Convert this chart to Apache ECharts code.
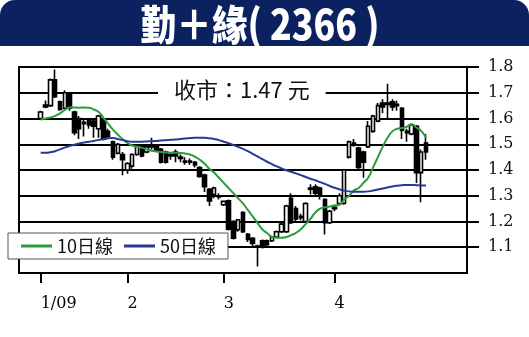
<!DOCTYPE html>
<html>
<head>
<meta charset="utf-8">
<script src="https://cdn.jsdelivr.net/npm/echarts@6/dist/echarts.min.js"></script>
<style>
html,body{margin:0;padding:0;background:#fff;}
#chart{width:529px;height:337px;}
</style>
</head>
<body>
<div id="chart"></div>
<script>
// Daily candles: [open, close, low, high]
const candles = [
  [1.60,1.625,1.598,1.63],[1.645,1.652,1.64,1.67],[1.65,1.75,1.645,1.755],[1.75,1.685,1.68,1.79],
  [1.665,1.635,1.63,1.67],[1.64,1.70,1.635,1.71],[1.695,1.64,1.63,1.70],[1.625,1.545,1.535,1.63],
  [1.60,1.56,1.52,1.61],[1.58,1.585,1.53,1.60],[1.595,1.575,1.56,1.60],[1.59,1.57,1.525,1.595],
  [1.56,1.61,1.525,1.615],[1.595,1.52,1.515,1.60],[1.55,1.53,1.52,1.56],[1.51,1.45,1.44,1.515],
  [1.465,1.50,1.46,1.505],[1.46,1.44,1.38,1.47],[1.40,1.425,1.385,1.43],[1.415,1.46,1.405,1.465],
  [1.46,1.495,1.455,1.50],[1.495,1.455,1.45,1.50],[1.47,1.49,1.465,1.50],[1.495,1.49,1.48,1.525],
  [1.49,1.475,1.47,1.50],[1.48,1.43,1.425,1.485],[1.47,1.43,1.425,1.475],[1.455,1.46,1.44,1.47],
  [1.47,1.455,1.43,1.48],[1.45,1.445,1.43,1.46],[1.435,1.43,1.42,1.45],[1.435,1.43,1.42,1.445],
  [1.43,1.42,1.41,1.435],[1.41,1.375,1.37,1.415],[1.38,1.335,1.315,1.385],[1.325,1.28,1.26,1.33],
  [1.305,1.33,1.29,1.335],[1.30,1.295,1.285,1.31],[1.265,1.278,1.26,1.28],[1.28,1.17,1.165,1.285],
  [1.20,1.135,1.13,1.205],[1.168,1.207,1.16,1.21],[1.235,1.16,1.155,1.24],[1.15,1.13,1.12,1.155],
  [1.135,1.115,1.105,1.14],[1.10,1.105,1.025,1.11],[1.125,1.10,1.095,1.13],[1.125,1.11,1.10,1.13],
  [1.125,1.14,1.12,1.145],[1.14,1.16,1.135,1.165],[1.16,1.19,1.155,1.195],[1.16,1.26,1.155,1.265],
  [1.29,1.195,1.19,1.31],[1.25,1.21,1.20,1.26],[1.22,1.215,1.205,1.23],[1.20,1.27,1.195,1.275],
  [1.33,1.325,1.305,1.345],[1.335,1.31,1.30,1.345],[1.33,1.30,1.285,1.335],[1.285,1.195,1.15,1.29],
  [1.195,1.24,1.19,1.245],[1.25,1.255,1.24,1.265],[1.27,1.30,1.265,1.31],[1.27,1.40,1.265,1.40],
  [1.45,1.51,1.445,1.515],[1.505,1.50,1.49,1.52],[1.485,1.41,1.40,1.49],[1.47,1.43,1.37,1.475],
  [1.49,1.57,1.485,1.59],[1.55,1.61,1.545,1.615],[1.59,1.65,1.585,1.66],[1.66,1.645,1.62,1.675],
  [1.66,1.655,1.60,1.735],[1.665,1.645,1.63,1.675],[1.655,1.65,1.63,1.67],[1.64,1.555,1.52,1.645],
  [1.55,1.545,1.51,1.56],[1.54,1.575,1.535,1.58],[1.57,1.39,1.35,1.575],[1.39,1.47,1.275,1.48],
  [1.505,1.47,1.44,1.54]
];

// 10-day moving average
const ma10 = [
  1.595,1.60,1.604,1.61,1.62,1.633,1.643,1.643,1.642,1.643,1.642,1.635,1.626,1.603,1.58,1.557,
  1.538,1.52,1.505,1.495,1.49,1.486,1.48,1.475,1.472,1.47,1.468,1.467,1.467,1.466,1.464,1.46,
  1.452,1.44,1.425,1.405,1.39,1.37,1.35,1.33,1.31,1.29,1.27,1.245,1.22,1.195,1.17,1.155,
  1.14,1.137,1.137,1.14,1.147,1.156,1.17,1.19,1.21,1.235,1.25,1.255,1.258,1.262,1.265,1.285,
  1.30,1.32,1.33,1.35,1.37,1.41,1.45,1.49,1.525,1.55,1.56,1.563,1.568,1.578,1.565,1.552,1.525
];

// 50-day moving average
const ma50 = [
  1.467,1.467,1.469,1.473,1.48,1.487,1.493,1.498,1.503,1.507,1.51,1.513,1.517,1.52,1.523,1.524,
  1.52,1.516,1.512,1.51,1.51,1.51,1.511,1.512,1.513,1.515,1.516,1.517,1.518,1.52,1.522,1.524,
  1.525,1.525,1.525,1.523,1.52,1.516,1.51,1.504,1.497,1.49,1.482,1.473,1.463,1.453,1.442,1.432,
  1.423,1.414,1.406,1.399,1.393,1.387,1.38,1.373,1.366,1.36,1.353,1.346,1.338,1.331,1.325,1.32,
  1.317,1.316,1.316,1.316,1.317,1.32,1.324,1.328,1.332,1.336,1.339,1.341,1.342,1.342,1.341,1.34,1.34
];

// Month markers: label and the trading-day index it sits on
const monthLabels = ['1/09', '2', '3', '4'];
const monthIndex = [0, 18, 38, 61];

// Price levels shown on the right axis
const priceTicks = [1.1, 1.2, 1.3, 1.4, 1.5, 1.6, 1.7, 1.8];

const seriesNames = ['10日線', '50日線'];
const titleText = '勤＋緣( 2366 )';

// Empty slots left and right of the trading days
const padBefore = 4, padAfter = 8;
const total = padBefore + candles.length + padAfter;
const cats = Array.from({length: total}, (_, i) => 'd' + i);
const labelAt = {};
monthIndex.forEach((d, k) => { labelAt[d + padBefore] = monthLabels[k]; });

function pad(arr, empty) {
  const out = [];
  for (let i = 0; i < padBefore; i++) out.push(empty);
  arr.forEach(v => out.push(v));
  for (let i = 0; i < padAfter; i++) out.push(empty);
  return out;
}

const lastClose = candles[candles.length - 1][1];

const chart = echarts.init(document.getElementById('chart'), null, {renderer: 'canvas'});
chart.setOption({
  animation: false,
  backgroundColor: '#fff',
  grid: {
    left: 19, right: 62, top: 67, bottom: 64,
    show: true, borderColor: '#000', borderWidth: 2,
    containLabel: false, outerBoundsMode: 'none'
  },
  legend: {
    data: seriesNames,
    left: 8, top: 233,
    orient: 'horizontal',
    backgroundColor: '#fff',
    borderColor: '#555', borderWidth: 1,
    padding: [4, 12, 4, 13],
    itemWidth: 31, itemHeight: 3, itemGap: 11,
    icon: 'rect',
    selectedMode: false,
    textStyle: {fontFamily: '"Noto Sans CJK TC"', fontSize: 18, color: '#111'}
  },
  xAxis: {
    type: 'category',
    data: cats,
    boundaryGap: true,
    axisLine: {show: true, lineStyle: {color: '#000', width: 2}},
    axisTick: {
      show: true, alignWithLabel: true, length: 10,
      lineStyle: {color: '#000', width: 2},
      interval: (i) => labelAt[i] !== undefined
    },
    axisLabel: {
      interval: (i) => labelAt[i] !== undefined,
      formatter: (v, i) => labelAt[i] || '',
      align: 'left', margin: 23,
      fontFamily: '"DejaVu Serif"', fontSize: 16, color: '#000'
    },
    splitLine: {show: false}
  },
  yAxis: {
    type: 'value',
    position: 'right',
    min: 1.0, max: 1.8, interval: 0.1,
    axisLine: {show: true, lineStyle: {color: '#000', width: 2}},
    axisTick: {
      show: true, inside: false, length: 12,
      lineStyle: {color: '#000', width: 2},
      customValues: priceTicks
    },
    axisLabel: {
      customValues: priceTicks,
      formatter: (v) => v.toFixed(1),
      margin: 21,
      fontFamily: '"DejaVu Serif"', fontSize: 16, color: '#111',
      verticalAlign: 'middle', padding: [0, 0, 12, 0]
    },
    splitLine: {show: true, lineStyle: {color: '#000', width: 2}}
  },
  series: [
    {
      type: 'candlestick',
      name: 'K',
      data: pad(candles, ['-', '-', '-', '-']),
      barWidth: 4,
      z: 3,
      itemStyle: {
        color: '#fff', color0: '#000',
        borderColor: '#000', borderColor0: '#000', borderColorDoji: '#000',
        borderWidth: 1.6
      }
    },
    {
      type: 'line', name: seriesNames[0],
      data: pad(ma10, '-'),
      smooth: true, showSymbol: false, symbol: 'none',
      z: 4,
      color: '#2b9b3c',
      lineStyle: {color: '#2b9b3c', width: 2}
    },
    {
      type: 'line', name: seriesNames[1],
      data: pad(ma50, '-'),
      smooth: true, showSymbol: false, symbol: 'none',
      z: 4,
      color: '#243a96',
      lineStyle: {color: '#243a96', width: 2}
    }
  ],
  graphic: [
    {
      type: 'rect', z: 1,
      shape: {x: 0, y: 0, width: 529, height: 46, r: [15, 15, 0, 0]},
      style: {fill: '#0c2160'}
    },
    {
      type: 'text', z: 2,
      x: 260, y: 24,
      scaleX: 0.94, scaleY: 1.08,
      style: {
        text: titleText,
        font: '900 38px "Noto Sans CJK TC"',
        fill: '#fff',
        align: 'center', verticalAlign: 'middle'
      }
    },
    {
      type: 'text', z: 20,
      x: 158, y: 90,
      style: {
        text: '收市：' + lastClose.toFixed(2) + ' 元',
        font: '22px "Noto Sans CJK TC"',
        fill: '#111',
        backgroundColor: '#fff',
        padding: [2, 16, 2, 16],
        align: 'left', verticalAlign: 'middle'
      }
    }
  ]
});
</script>
</body>
</html>
